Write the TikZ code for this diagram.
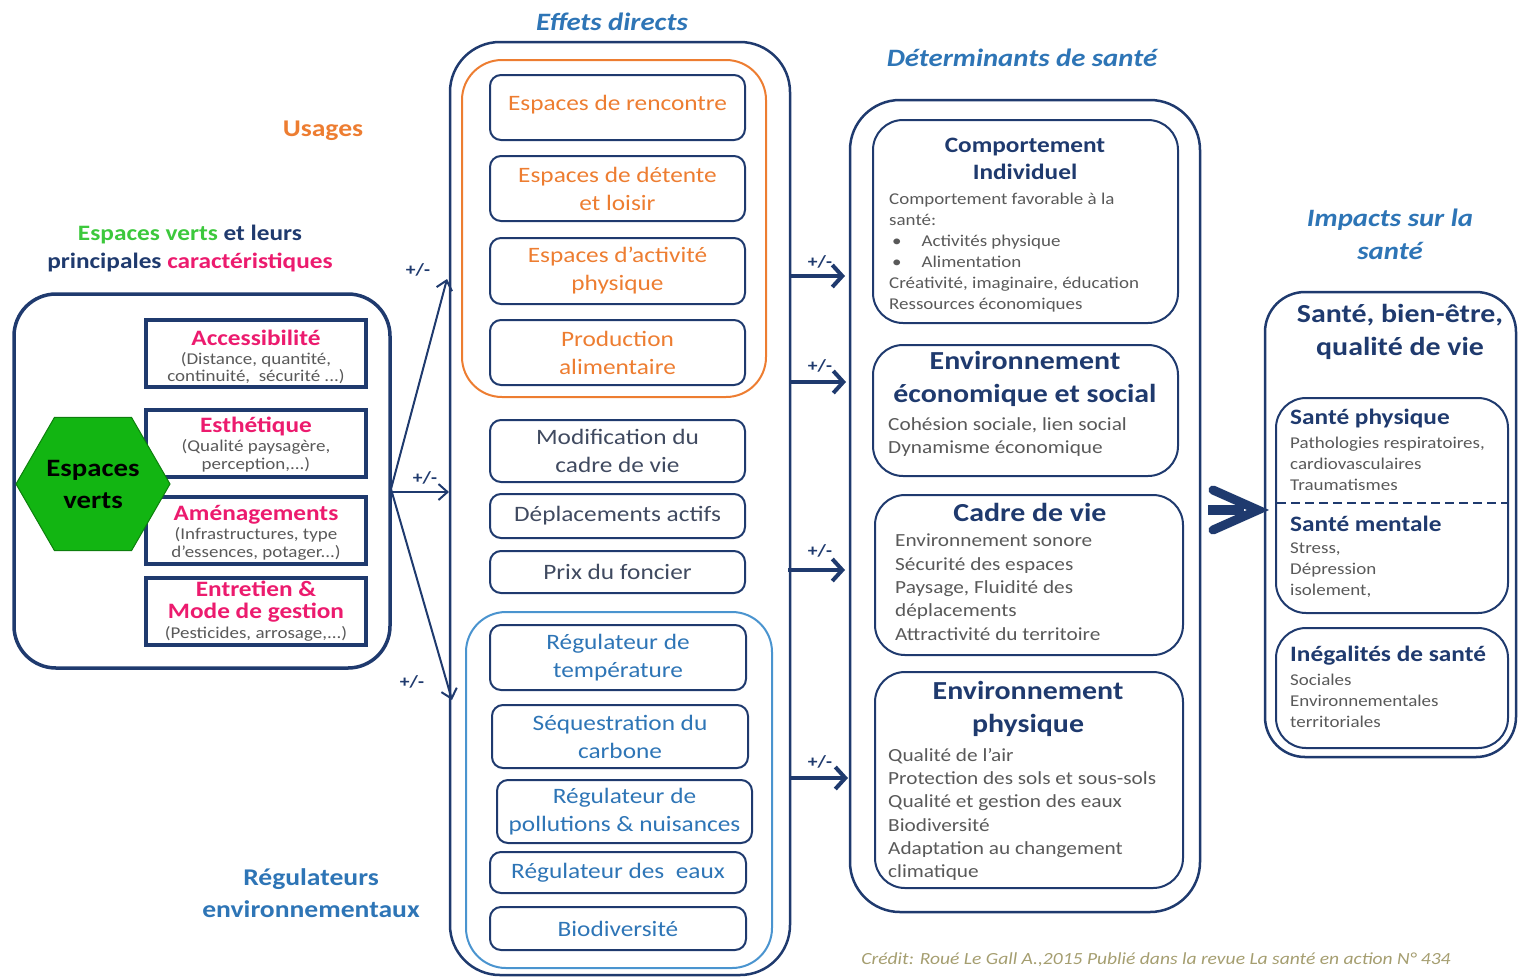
\documentclass[tikz,border=0pt]{standalone}
\usepackage{fontspec}
\setmainfont{Carlito}[FakeStretch=1.15]
\usetikzlibrary{arrows.meta,shapes.geometric}
\definecolor{navy}{HTML}{1F3A6E}
\definecolor{txtgrey}{HTML}{595959}
\definecolor{dtext}{HTML}{404A60}
\definecolor{orng}{HTML}{ED7D31}
\definecolor{bluet}{HTML}{2E75B6}
\definecolor{blueg}{HTML}{4A94CF}
\definecolor{mag}{HTML}{EC1B6E}
\definecolor{grn}{HTML}{3CC83C}
\definecolor{hexg}{HTML}{12B512}
\definecolor{credit}{HTML}{A59E70}
\newcommand\fsz[2]{\fontsize{#1}{#2}\selectfont}
\begin{document}
\begin{tikzpicture}[x=1pt,y=-1pt,
  grp/.style={draw=navy, line width=2.5pt, rounded corners=45pt, inner sep=0pt},
  ibox/.style={draw=navy, line width=2pt, rounded corners=11pt, inner sep=0pt, align=center, font=\fsz{22}{28}},
  cbox/.style={draw=navy, line width=4pt, inner sep=0pt},
  dbox/.style={draw=navy, line width=2pt, rounded corners=30pt, inner sep=0pt},
  head/.style={font=\fsz{25}{33}\bfseries\itshape, text=bluet, align=center},
  ctitle/.style={font=\fsz{22}{22}\bfseries, text=mag, align=center},
  csub/.style={font=\fsz{16.5}{17.5}, text=txtgrey, align=center},
  dtitle/.style={font=\fsz{26}{33}\bfseries, text=navy, align=center},
  dbody/.style={font=\fsz{18.5}{23.3}, text=txtgrey, align=left, anchor=north west, inner sep=0pt},
  ibody/.style={font=\fsz{16.5}{21}, text=txtgrey, align=left, anchor=north west, inner sep=0pt},
  ititle/.style={font=\fsz{22}{24}\bfseries, text=navy, anchor=west, inner sep=0pt},
  pm/.style={font=\fsz{17}{17}\bfseries, text=navy},
  arrthin/.style={draw=navy, line width=2pt, -{Straight Barb[length=9pt,width=16pt]}},
  arrthick/.style={draw=navy, line width=4pt, -{Straight Barb[length=10pt,width=22pt]}},
]
\useasboundingbox (0,0) rectangle (1518,978);

% ---------------- left panel ----------------
\node[font=\fsz{22}{28}\bfseries, align=center] (lt) at (190,249)
  {\textcolor{grn}{Espaces verts} \textcolor{navy}{et leurs}\\\textcolor{navy}{principales} \textcolor{mag}{caractéristiques}};
\node[grp, line width=3.5pt, rounded corners=42pt, minimum width=376pt, minimum height=374pt] (left) at (202,481) {};

\node[cbox, minimum width=220pt, minimum height=67pt] (acc) at (256,353.5) {};
\node[ctitle] (acct) at (256,338) {Accessibilité};
\node[csub] (accs) at (256,368) {(Distance, quantité,\\continuité,\ \ sécurité ...)};

\node[cbox, minimum width=220pt, minimum height=67pt] (est) at (256,443.5) {};
\node[ctitle] (estt) at (256,426) {Esthétique};
\node[csub] (ests) at (256,456) {(Qualité paysagère,\\perception,...)};

\node[cbox, minimum width=220pt, minimum height=67pt] (ame) at (256,530.5) {};
\node[ctitle] (amet) at (256,515) {Aménagements};
\node[csub] (ames) at (256,544) {(Infrastructures, type\\d’essences, potager...)};

\node[cbox, minimum width=220pt, minimum height=67pt] (ent) at (256,611.5) {};
\node[ctitle] (entt) at (256,602) {Entretien \&\\Mode de gestion};
\node[csub] (ents) at (256,634) {(Pesticides, arrosage,...)};

\node[regular polygon, regular polygon sides=6, minimum size=154pt, inner sep=0pt,
      fill=hexg, draw=hexg!70!black, line width=1pt, font=\fsz{25}{32}\bfseries, align=center] (hex) at (93,484) {Espaces\\verts};

% arrows left -> middle
\coordinate (lo) at (391,489);
\coordinate (lo2) at (391,492);
\coordinate (a1) at (447,279);
\coordinate (a2) at (449,492);
\coordinate (a3) at (452,700);
\draw[arrthin] (lo) -- (a1);
\draw[arrthin] (lo2) -- (a2);
\draw[arrthin] (lo) -- (a3);
\node[pm] (pm1) at (418,270) {+/-};
\node[pm] (pm2) at (425,478) {+/-};
\node[pm] (pm3) at (412,682) {+/-};

% ---------------- middle panel ----------------
\node[head] (hed) at (612,22) {Effets directs};
\node[font=\fsz{24}{30}\bfseries, text=orng] (usg) at (323,131) {Usages};
\node[font=\fsz{24}{32}\bfseries, text=bluet, align=center] (rgl) at (311,893) {Régulateurs\\environnementaux};

\node[grp, rounded corners=50pt, minimum width=340pt, minimum height=933pt] (mid) at (620,508.5) {};
\node[draw=orng, line width=2pt, rounded corners=40pt, minimum width=304pt, minimum height=337pt, inner sep=0pt] (ogrp) at (614,228.5) {};
\node[draw=blueg, line width=2pt, rounded corners=40pt, minimum width=306pt, minimum height=356pt, inner sep=0pt] (bgrp) at (619,790) {};

\node[ibox, text=orng, minimum width=255pt, minimum height=65pt] (m1) at (617.5,107.5) {\raisebox{9pt}{Espaces de rencontre}};
\node[ibox, text=orng, minimum width=255pt, minimum height=65pt] (m2) at (617.5,188.5) {Espaces de détente\\et loisir};
\node[ibox, text=orng, minimum width=255pt, minimum height=66pt] (m3) at (617.5,271) {Espaces d’activité\\physique};
\node[ibox, text=orng, minimum width=255pt, minimum height=65pt] (m4) at (617.5,352.5) {Production\\alimentaire};
\node[ibox, text=dtext, minimum width=255pt, minimum height=62pt] (m5) at (617.5,451) {Modification du\\cadre de vie};
\node[ibox, text=dtext, minimum width=255pt, minimum height=44pt] (m6) at (617.5,516) {Déplacements actifs};
\node[ibox, text=dtext, minimum width=255pt, minimum height=42pt] (m7) at (617.5,572) {Prix du foncier};

\node[ibox, text=bluet, minimum width=256pt, minimum height=65pt] (b1) at (618,657.5) {Régulateur de\\température};
\node[ibox, text=bluet, minimum width=256pt, minimum height=63pt] (b2) at (620,736.5) {Séquestration du\\carbone};
\node[ibox, text=bluet, minimum width=255pt, minimum height=63pt] (b3) at (624.5,811.5) {Régulateur de\\pollutions \& nuisances};
\node[ibox, text=bluet, minimum width=256pt, minimum height=41pt] (b4) at (618,872.5) {Régulateur des\ \ eaux};
\node[ibox, text=bluet, minimum width=256pt, minimum height=43pt] (b5) at (618,928.5) {Biodiversité};

% arrows middle -> determinants
\coordinate (o1) at (791,276);  \coordinate (t1) at (845,276);
\coordinate (o2) at (791,382);  \coordinate (t2) at (846,382);
\coordinate (o3) at (788,570);  \coordinate (t3) at (845,570);
\coordinate (o4) at (791,778);  \coordinate (t4) at (848,778);
\draw[arrthick] (o1) -- (t1);
\draw[arrthick] (o2) -- (t2);
\draw[arrthick] (o3) -- (t3);
\draw[arrthick] (o4) -- (t4);
\node[pm] (pm4) at (820,262) {+/-};
\node[pm] (pm5) at (820,366) {+/-};
\node[pm] (pm6) at (820,551) {+/-};
\node[pm] (pm7) at (820,762) {+/-};

% ---------------- determinants ----------------
\node[head] (hdet) at (1022,58) {Déterminants de santé};
\node[grp, rounded corners=50pt, minimum width=350pt, minimum height=812pt] (det) at (1025,506) {};

\node[dbox, minimum width=305pt, minimum height=203pt] (d1) at (1025.5,221.5) {};
\node[dtitle, font=\fsz{22}{27}\bfseries] (d1t) at (1025,158.5) {Comportement\\Individuel};
\node[ibody] (d1b) at (889,193) {Comportement favorable à la\\santé:\\\hspace*{3pt}\textbullet\hspace{20pt}Activités physique\\\hspace*{3pt}\textbullet\hspace{20pt}Alimentation\\Créativité, imaginaire, éducation\\Ressources économiques};

\node[dbox, minimum width=305pt, minimum height=131pt] (d2) at (1025.5,410.5) {};
\node[dtitle] (d2t) at (1025,378.5) {Environnement\\économique et social};
\node[dbody] (d2b) at (888,417) {Cohésion sociale, lien social\\Dynamisme économique};

\node[dbox, minimum width=308pt, minimum height=160pt] (d3) at (1029,575) {};
\node[dtitle] (d3t) at (1030,512) {Cadre de vie};
\node[dbody] (d3b) at (895,534) {Environnement sonore\\Sécurité des espaces\\Paysage, Fluidité des\\déplacements\\Attractivité du territoire};

\node[dbox, minimum width=308pt, minimum height=216pt] (d4) at (1029,780) {};
\node[dtitle] (d4t) at (1028,709) {Environnement\\physique};
\node[dbody] (d4b) at (888,748) {Qualité de l’air\\Protection des sols et sous-sols\\Qualité et gestion des eaux\\Biodiversité\\Adaptation au changement\\climatique};

% big arrow
\coordinate (bs) at (1208,510);
\coordinate (be) at (1244,510);
\coordinate (c1) at (1213,490);
\coordinate (ct) at (1258,510);
\coordinate (c3) at (1213,530);
\draw[navy, line width=10pt] (bs) -- (be);
\draw[navy, line width=9pt, line cap=round, line join=miter] (c1) -- (ct) -- (c3);

% ---------------- impacts ----------------
\node[head] (himp) at (1390,234.5) {Impacts sur la\\santé};
\node[grp, rounded corners=40pt, minimum width=251pt, minimum height=465pt] (imp) at (1390.5,524.5) {};
\node[dtitle] (impt) at (1400,332) {Santé, bien-être,\\qualité de vie};

\node[dbox, minimum width=232pt, minimum height=215pt] (i1) at (1392,505.5) {};
\coordinate (dl) at (1277,503);
\coordinate (dr) at (1507,503);
\draw[navy, line width=2.5pt, dash pattern=on 9pt off 5pt] (dl) -- (dr);
\node[ititle] (i1t) at (1290,419) {Santé physique};
\node[ibody] (i1b) at (1290,437) {Pathologies respiratoires,\\cardiovasculaires\\Traumatismes};
\node[ititle] (i2t) at (1290,524) {Santé mentale};
\node[ibody] (i2b) at (1290,543) {Stress,\\Dépression\\isolement,};

\node[dbox, minimum width=232pt, minimum height=120pt] (i2) at (1392,688) {};
\node[ititle] (i3t) at (1290,656) {Inégalités de santé};
\node[ibody] (i3b) at (1290,674) {Sociales\\Environnementales\\territoriales};

% credit
\node[font=\fsz{17}{17}\itshape, text=credit] (cred) at (1156,960) {Crédit: Roué Le Gall A.,2015 Publié dans la revue La santé en action N° 434};
\end{tikzpicture}
\end{document}
